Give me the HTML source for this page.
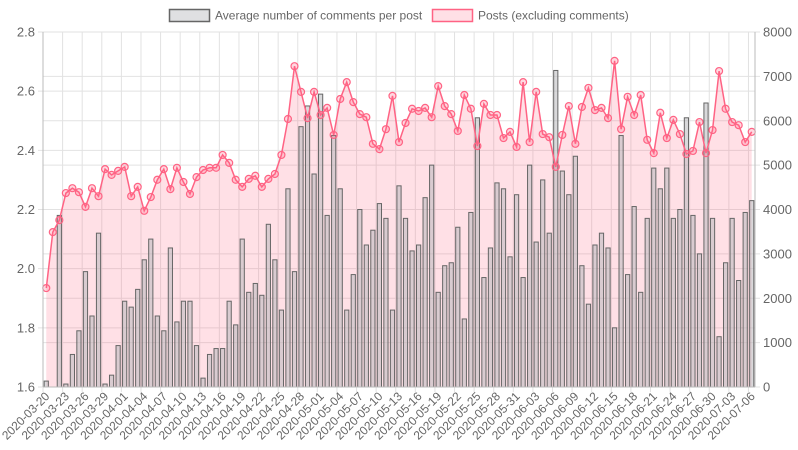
<!DOCTYPE html>
<html><head><meta charset="utf-8"><style>
body{margin:0;background:#fff;}
svg{display:block;font-family:"Liberation Sans",sans-serif;}
</style></head><body>
<svg id="chart" width="798" height="450" xmlns="http://www.w3.org/2000/svg">
<g>
<rect x="169.5" y="9.5" width="40" height="12" fill="rgba(201,203,207,0.6)" stroke="#666" stroke-width="1.5"/>
<text x="215" y="19.5" font-size="12" fill="#666">Average number of comments per post</text>
<rect x="432.5" y="9.5" width="40" height="12" fill="rgba(255,99,132,0.2)" stroke="rgb(255,99,132)" stroke-width="1.5"/>
<text x="478" y="19.5" font-size="12" fill="#666">Posts (excluding comments)</text>
</g>
<g id="grid"></g><g id="bars"></g><g id="line"></g><g id="axes"></g>
</svg>
<script>
const avgComments=[1.62,1.60,2.18,1.61,1.71,1.79,1.99,1.84,2.12,1.61,1.64,1.74,1.89,1.87,1.93,2.03,2.10,1.84,1.79,2.07,1.82,1.89,1.89,1.74,1.63,1.71,1.73,1.73,1.89,1.81,2.10,1.92,1.95,1.91,2.15,2.03,1.86,2.27,1.99,2.48,2.55,2.32,2.59,2.18,2.45,2.27,1.86,1.98,2.20,2.08,2.13,2.22,2.17,1.86,2.28,2.17,2.06,2.08,2.24,2.35,1.92,2.01,2.02,2.14,1.83,2.19,2.51,1.97,2.07,2.29,2.27,2.04,2.25,1.97,2.35,2.09,2.30,2.12,2.67,2.33,2.25,2.38,2.01,1.88,2.08,2.12,2.07,1.80,2.45,1.98,2.21,1.92,2.17,2.34,2.27,2.34,2.17,2.20,2.51,2.18,2.05,2.56,2.17,1.77,2.02,2.17,1.96,2.19,2.23];
const posts=[2230,3490,3760,4370,4480,4390,4060,4480,4300,4910,4780,4870,4960,4300,4510,3970,4280,4670,4910,4460,4940,4620,4350,4730,4890,4940,4940,5230,5050,4670,4510,4690,4760,4510,4690,4800,5230,6040,7230,6650,6060,6650,6130,6290,5680,6490,6870,6420,6150,6080,5480,5360,5810,6560,5520,5950,6270,6220,6290,6080,6780,6330,6150,5770,6580,6270,5430,6380,6130,6130,5610,5750,5410,6870,5520,6650,5700,5630,4960,5680,6330,5480,6310,6740,6240,6290,6060,7350,5810,6540,6130,6580,5570,5270,6180,5610,6020,5700,5250,5320,5970,5270,5790,7120,6270,5970,5900,5520,5750];
const leftTicks=[1.6,1.8,2.0,2.2,2.4,2.6,2.8];
const rightTicks=[0,1000,2000,3000,4000,5000,6000,7000,8000];
const startDate='2020-03-20';

const NS='http://www.w3.org/2000/svg';
const L=43,R=755,T=32,B=387;
const n=avgComments.length, step=(R-L)/n;
const xAt=i=>L+step*(i+0.5);
const yL=v=>B-(v-1.6)/(2.8-1.6)*(B-T);
const yR=v=>B-v/8000*(B-T);
function mk(tag,attrs,parent,txt){const e=document.createElementNS(NS,tag);for(const k in attrs)e.setAttribute(k,attrs[k]);if(txt!==undefined)e.textContent=txt;parent.appendChild(e);return e;}
const grid=document.getElementById('grid'),bars=document.getElementById('bars'),line=document.getElementById('line'),axes=document.getElementById('axes');
function dateLabel(i){const d=new Date(startDate+'T00:00:00Z');d.setUTCDate(d.getUTCDate()+i);return d.toISOString().slice(0,10);}
// grid
leftTicks.forEach(t=>{const y=yL(t);const g=mk('line',{x1:L-5,x2:R,y1:y,y2:y,stroke:'#e2e2e2','stroke-width':1},grid);

const tx=mk('text',{x:L-8,y:y+4.5,'text-anchor':'end','font-size':13,fill:'#666'},axes,t.toFixed(1));
});
rightTicks.forEach(t=>{const y=yR(t);const g=mk('line',{x1:L,x2:R+5,y1:y,y2:y,stroke:'#e2e2e2','stroke-width':1},grid);

const tx=mk('text',{x:R+8,y:y+4.5,'text-anchor':'start','font-size':13,fill:'#666'},axes,String(t));
});
for(let i=0;i<n;i+=3){const x=xAt(i)-step/2;const g=mk('line',{x1:x,x2:x,y1:T,y2:B+5,stroke:'#e2e2e2','stroke-width':1},grid);

const tx=mk('text',{x:0,y:0,'text-anchor':'end','font-size':12,fill:'#666',transform:`translate(${xAt(i)+4},${B+10}) rotate(-45)`},axes,dateLabel(i));
}
// axis lines
const al=mk('line',{x1:L,x2:L,y1:T,y2:B,stroke:'#bbb'},axes);
const ar=mk('line',{x1:R,x2:R,y1:T,y2:B,stroke:'#bbb'},axes);
const ab=mk('line',{x1:L,x2:R,y1:B,y2:B,stroke:'#bbb'},axes);
// area + line
let pts=posts.map((v,i)=>[xAt(i),yR(v)]);
let d='M'+pts.map(p=>p[0].toFixed(1)+','+p[1].toFixed(1)).join('L');
const area=mk('path',{d:d+`L${pts[n-1][0]},${B}L${pts[0][0]},${B}Z`,fill:'rgba(255,99,132,0.2)'},bars);

avgComments.forEach((v,i)=>{const w=4.2,y=yL(v);const b=mk('rect',{x:xAt(i)-w/2,y:y,width:w,height:Math.max(0,B-y),fill:'rgba(185,185,190,0.55)',stroke:'#666','stroke-width':1},bars);
});
const pl=mk('path',{d:d,fill:'none',stroke:'rgb(255,99,132)','stroke-width':1.5},line);

pts.forEach(p=>{const c=mk('circle',{cx:p[0],cy:p[1],r:3.5,fill:'rgba(255,99,132,0.25)',stroke:'rgb(255,99,132)','stroke-width':1.2},line);
});
</script>
</body></html>
